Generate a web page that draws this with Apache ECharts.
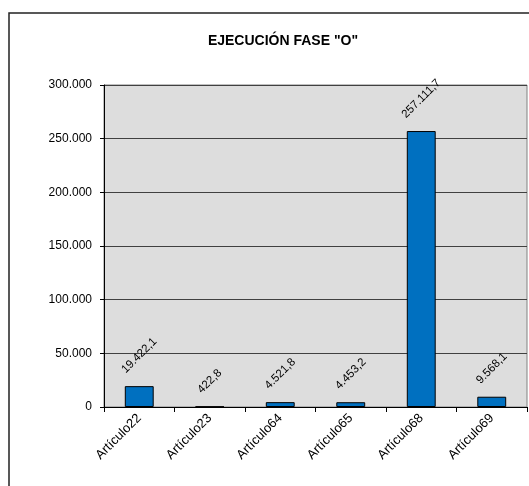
<!DOCTYPE html>
<html>
<head>
<meta charset="utf-8">
<script src="https://cdn.jsdelivr.net/npm/echarts@6/dist/echarts.min.js"></script>
<style>
html,body{margin:0;padding:0;background:#fff;}
#chart{width:529px;height:486px;}
</style>
</head>
<body>
<div id="chart"></div>
<script>
var titleText = 'EJECUCIÓN FASE "O"';
var categories = ['Artículo22', 'Artículo23', 'Artículo64', 'Artículo65', 'Artículo68', 'Artículo69'];
var values = [19422.1, 422.8, 4521.8, 4453.2, 257111.7, 9568.1];
var yMin = 0, yMax = 300000, yStep = 50000;

var FONT = '"Liberation Sans", Arial, sans-serif';

function fmtThousands(intStr) {
  return intStr.replace(/\B(?=(\d{3})+(?!\d))/g, '.');
}
function fmtValue(v) {
  var s = v.toFixed(1).split('.');
  return fmtThousands(s[0]) + ',' + s[1];
}

var labelFontSize = 11.5;
var ctx = document.createElement('canvas').getContext('2d');
ctx.font = labelFontSize + 'px ' + FONT;
var dataItems = values.map(function (v) {
  var txt = fmtValue(v);
  var w = ctx.measureText(txt).width;
  var h = labelFontSize + 2;
  var halfBox = (w + h) * Math.SQRT1_2 / 2;
  return {
    value: v,
    label: { distance: 10 + halfBox }
  };
});

var chart = echarts.init(document.getElementById('chart'), null, { renderer: 'canvas' });
chart.setOption({
  animation: false,
  backgroundColor: '#ffffff',
  graphic: [
    {
      type: 'rect',
      shape: { x: 9, y: 13, width: 560, height: 520 },
      style: { fill: 'none', stroke: '#222', lineWidth: 1.5 },
      z: -10
    },
    {
      type: 'text',
      x: 283, y: 41,
      style: {
        text: titleText,
        align: 'center', verticalAlign: 'middle',
        fontFamily: FONT, fontSize: 14, fontWeight: 'bold', fill: '#000'
      }
    }
  ],
  grid: {
    left: 104, top: 85, right: 2, bottom: 79,
    show: true, backgroundColor: '#DDDDDD', borderColor: '#808080', borderWidth: 1
  },
  xAxis: {
    type: 'category',
    data: categories,
    boundaryGap: true,
    axisLine: { show: true, lineStyle: { color: '#000', width: 1 } },
    axisTick: { show: true, length: 5, lineStyle: { color: '#000' } },
    axisLabel: {
      rotate: 45, margin: 9, interval: 0,
      fontFamily: FONT, fontSize: 13, color: '#000'
    },
    splitLine: { show: false }
  },
  yAxis: {
    type: 'value',
    min: yMin, max: yMax, interval: yStep,
    axisLine: { show: true, lineStyle: { color: '#000', width: 1 } },
    axisTick: { show: true, length: 4, lineStyle: { color: '#000' } },
    axisLabel: {
      margin: 12, fontFamily: FONT, fontSize: 12, color: '#000',
      formatter: function (v) { return fmtThousands(String(Math.round(v))); }
    },
    splitLine: { show: true, lineStyle: { color: '#404040', width: 1 } }
  },
  series: [{
    type: 'bar',
    data: dataItems,
    barWidth: '41%',
    itemStyle: { color: '#0070C0', borderColor: '#000', borderWidth: 1 },
    label: {
      show: true,
      position: 'top',
      rotate: 45,
      align: 'center',
      verticalAlign: 'middle',
      fontFamily: FONT, fontSize: labelFontSize, color: '#000',
      formatter: function (p) { return fmtValue(p.value); }
    }
  }]
});
</script>
</body>
</html>
